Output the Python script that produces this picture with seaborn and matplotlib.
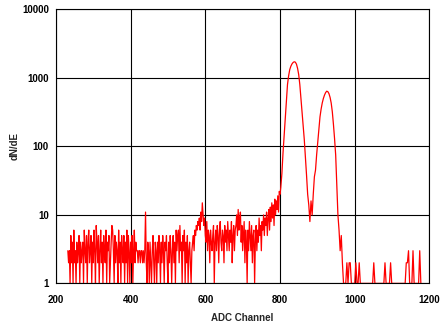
import numpy as np
import pandas as pd
import matplotlib
matplotlib.use("Agg")
import matplotlib.pyplot as plt
import seaborn as sns

# --- data ---
start_a, step_a = 232, 2
noise_a = [3, 2, 3, 1, 5, 2, 4, 1, 6, 2,
           3, 1, 4, 2, 3, 5, 1, 4, 2, 3,
           4, 1, 6, 3, 2, 5, 1, 4, 6, 2,
           3, 5, 1, 4, 2, 6, 3, 1, 7, 4,
           2, 5, 1, 3, 6, 2, 4, 1, 5, 3,
           2, 6, 1, 4, 3, 5, 1, 2, 4, 7,
           6, 3, 1, 5, 2, 4, 3, 1, 6, 2,
           4, 1, 5, 3, 2, 5, 1, 4, 2, 6,
           1, 5, 3, 1, 4, 2, 5, 1, 3, 6,
           2, 4, 3, 3, 2, 3, 3, 2, 3, 3,
           2, 3, 2, 3, 11, 2, 1, 4, 3, 1,
           4, 2, 1, 3, 5, 2, 1, 4, 3, 1,
           4, 2, 5, 3, 1, 4, 2, 5, 3, 1,
           4, 3, 5, 2, 1, 4, 2, 5, 3, 1,
           3, 5, 2, 4, 1, 6, 3, 5, 6, 2,
           7, 3, 4, 1, 5, 3, 6, 1, 4, 2,
           5, 1, 3, 4, 2]
start_b, step_b = 562, 2
noise_b = [1, 3, 4, 5, 3, 6, 5, 7, 6, 8,
           7, 9, 6, 11, 8, 15, 10, 7, 9, 5,
           4, 8, 3, 6, 5, 2, 6, 4, 3, 5,
           7, 1, 4, 6, 3, 7, 5, 2, 6, 8,
           4, 3, 6, 5, 2, 7, 4, 6, 3, 8,
           5, 3, 6, 4, 8, 2, 5, 7, 3, 6,
           7, 10, 5, 12, 6, 9, 11, 4, 7, 3,
           5, 8, 2, 6, 4, 1, 6, 3, 8, 5,
           3, 7, 2, 5, 6, 1, 4, 7, 3, 6,
           4, 9, 5, 7, 3, 8, 6, 10, 5, 9,
           7, 11, 5, 9, 12, 6, 13, 8, 15, 9,
           14, 7, 17, 10, 16, 12, 19, 11, 22, 20]
start_c, step_c = 802, 3
peaks = [25, 40, 80, 140, 250, 450, 800, 1070, 1320, 1480,
         1600, 1680, 1720, 1700, 1590, 1380, 1120, 800, 500, 320,
         200, 125, 70, 38, 20, 14, 8, 16, 10, 20,
         36, 45, 75, 115, 180, 270, 350, 430, 500, 560,
         610, 640, 630, 590, 520, 430, 320, 210, 130, 75,
         28, 10, 6, 3, 5, 2, 1]
start_d, step_d = 973, 3
tail = [1, 1, 2, 1, 2, 2, 1, 1, 1, 1,
        2, 1, 1, 2, 1, 1, 1, 1, 1, 1,
        1, 1, 1, 1, 1, 1, 2, 1, 1, 1,
        1, 1, 1, 1, 1, 1, 2, 1, 1, 1,
        1, 2, 1, 1, 1, 1, 1, 1, 1, 1,
        1, 1, 1, 1, 1, 2, 2, 3, 1, 1,
        1, 3, 1, 1, 1, 1, 1, 3, 1]

x_ticks = [200, 400, 600, 800, 1000, 1200]
y_ticks = [1, 10, 100, 1000, 10000]
y_labels = ["1", "10", "100", "1000", "10000"]

segments = [(start_a, step_a, noise_a), (start_b, step_b, noise_b),
            (start_c, step_c, peaks), (start_d, step_d, tail)]
chan, cnt = [], []
for s, st, vals in segments:
    chan += [s + st * i for i in range(len(vals))]
    cnt += vals
df = pd.DataFrame({"ADC Channel": chan, "dN/dE": cnt})

sns.set_style("white")
plt.rcParams["font.family"] = ["Liberation Sans", "DejaVu Sans"]
plt.rcParams["font.weight"] = "bold"

fig = plt.figure(figsize=(4.4, 3.25), dpi=100)
ax = fig.add_axes([0.127, 0.128, 0.849, 0.843])
sns.lineplot(data=df, x="ADC Channel", y="dN/dE", ax=ax, color="#ff0000",
             linewidth=0.9, estimator=None)
ax.set_yscale("log")
ax.set_xlim(200, 1200)
ax.set_ylim(1, 10000)
ax.set_xticks(x_ticks)
ax.set_yticks(y_ticks)
ax.set_yticklabels(y_labels)
ax.minorticks_off()
ax.grid(True, color="black", linewidth=0.8)
for sp in ax.spines.values():
    sp.set_visible(True)
    sp.set_color("black")
    sp.set_linewidth(0.8)
ax.tick_params(axis="both", direction="out", length=3, width=0.8,
               labelsize=7, colors="black")
ax.tick_params(axis="x", pad=5)
ax.tick_params(axis="y", pad=2)
for lab in ax.get_xticklabels() + ax.get_yticklabels():
    lab.set_fontweight("bold")
ax.set_xlabel("ADC Channel", fontsize=7, fontweight="bold", labelpad=6)
ax.set_ylabel("dN/dE", fontsize=7, fontweight="bold", labelpad=2)

fig.savefig("out.png", dpi=100)
